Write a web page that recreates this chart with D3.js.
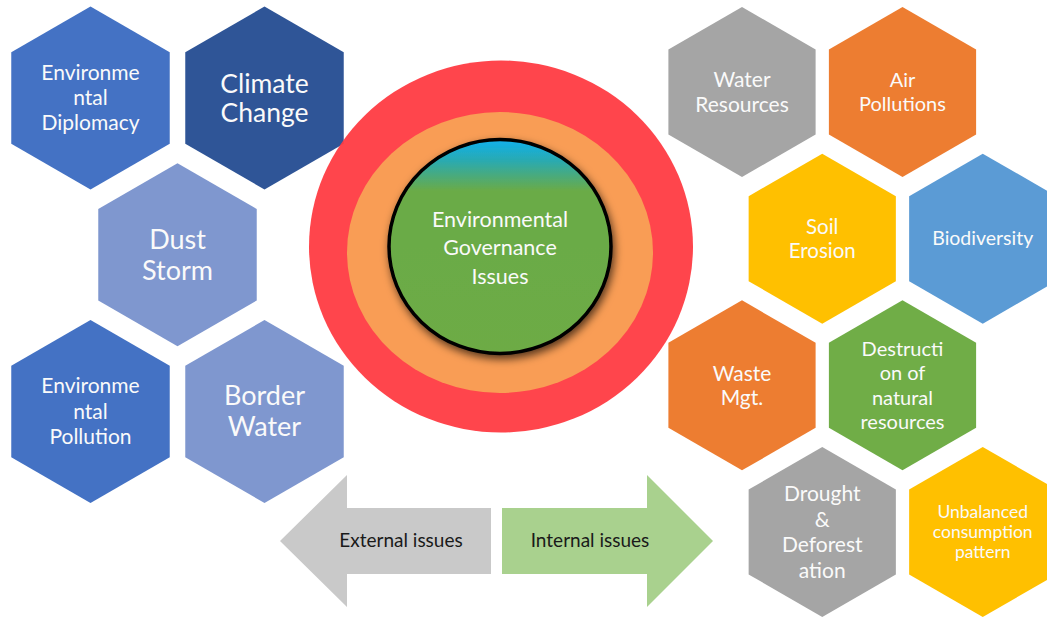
<!DOCTYPE html>
<html>
<head>
<meta charset="utf-8">
<script src="https://cdn.jsdelivr.net/npm/d3@7"></script>
<style>
  html, body { margin: 0; padding: 0; background: #fff; }
  text { font-family: Lato, "Noto Sans", sans-serif; }
</style>
</head>
<body>
<div id="chart"></div>
<script>
const width = 1047, height = 617;

// left cluster: external issues
const extLabels = [
    ["Environme", "ntal", "Diplomacy"],
    ["Climate", "Change"],
    ["Dust", "Storm"],
    ["Environme", "ntal", "Pollution"],
    ["Border", "Water"]
];
const extColors = ["#4472c4", "#2f5597", "#7f97cf", "#4472c4", "#7f97cf"];

// right cluster: internal issues
const intLabels = [
    ["Water", "Resources"],
    ["Air", "Pollutions"],
    ["Soil", "Erosion"],
    ["Biodiversity"],
    ["Waste", "Mgt."],
    ["Destructi", "on of", "natural", "resources"],
    ["Drought", "&", "Deforest", "ation"],
    ["Unbalanced", "consumption", "pattern"]
];
const intColors = ["#a5a5a5", "#ed7d31", "#ffc000", "#5b9bd5", "#ed7d31", "#70ad47", "#a5a5a5", "#ffc000"];

const centerLabel = ["Environmental", "Governance", "Issues"];
const arrowLabels = ["External issues", "Internal issues"];

// layout slots (column, row) in each honeycomb
const extSlots = [[0, 0], [1, 0], [0.5, 1], [0, 2], [1, 2]];
const extFont = [[21, 25], [26.5, 29], [27, 31], [21, 25.5], [27, 31]];
const intSlots = [[0, 0], [1, 0], [0.5, 1], [1.5, 1], [0, 2], [1, 2], [0.5, 3], [1.5, 3]];
const intFont = [[21, 25], [20, 24], [20.5, 24], [19.5, 24], [21, 24], [20, 24.5], [21, 25.5], [17.5, 20]];

const xExt = d3.scaleLinear().domain([0, 1]).range([90.5, 264.5]);
const yExt = d3.scaleLinear().domain([0, 2]).range([98, 411.5]);
const xInt = d3.scaleLinear().domain([0, 1]).range([742, 902.5]);
const yInt = d3.scaleLinear().domain([0, 3]).range([92, 532]);

const hexLine = d3.line().curve(d3.curveLinearClosed);
const hexPath = (cx, cy, r) => hexLine(d3.range(6).map(k => {
    let a = (-90 + 60 * k) * Math.PI / 180;
    return [cx + r * Math.cos(a), cy + r * Math.sin(a)];
}));

const svg = d3.select("#chart").append("svg")
    .attr("width", width).attr("height", height);

const defs = svg.append("defs");
let grad = defs.append("linearGradient").attr("id", "core")
    .attr("x1", 0).attr("y1", 0).attr("x2", 0).attr("y2", 1);
grad.append("stop").attr("offset", "0%").attr("stop-color", "#0fb0ee");
grad.append("stop").attr("offset", "10%").attr("stop-color", "#2aaab0");
grad.append("stop").attr("offset", "24%").attr("stop-color", "#6aab47");
grad.append("stop").attr("offset", "100%").attr("stop-color", "#6dab45");
defs.append("filter").attr("id", "shadow")
    .attr("x", "-20%").attr("y", "-20%").attr("width", "140%").attr("height", "140%")
    .append("feDropShadow")
    .attr("dx", 2).attr("dy", 4).attr("stdDeviation", 4)
    .attr("flood-color", "#000").attr("flood-opacity", 0.65);

const drawHexes = (g, labels, colors, slots, fonts, xs, ys, r) => {
    let data = labels.map((l, i) => ({
        lines: l, color: colors[i],
        cx: xs(slots[i][0]), cy: ys(slots[i][1]),
        fs: fonts[i][0], lh: fonts[i][1]
    }));
    let hex = g.selectAll("g").data(data).enter().append("g");
    hex.append("path")
        .attr("d", d => hexPath(d.cx, d.cy, r))
        .attr("fill", d => d.color);
    hex.append("text")
        .attr("fill", "#fafafa")
        .attr("text-anchor", "middle")
        .style("font-size", d => d.fs + "px")
        .selectAll("tspan")
        .data(d => d.lines.map((t, i) => ({ t, i, d })))
        .enter().append("tspan")
        .attr("x", o => o.d.cx)
        .attr("y", o => o.d.cy + (o.i - (o.d.lines.length - 1) / 2) * o.d.lh + o.d.fs * 0.35)
        .text(o => o.t);
};

drawHexes(svg.append("g").attr("class", "ext"), extLabels, extColors, extSlots, extFont, xExt, yExt, 91.5);
drawHexes(svg.append("g").attr("class", "int"), intLabels, intColors, intSlots, intFont, xInt, yInt, 85);

// centre rings
let core = svg.append("g").attr("class", "core");
core.append("ellipse").attr("cx", 501).attr("cy", 246.5).attr("rx", 192).attr("ry", 186)
    .attr("fill", "#ff3b42").attr("fill-opacity", 0.95);
core.append("ellipse").attr("cx", 500).attr("cy", 252.5).attr("rx", 153).attr("ry", 140.5)
    .attr("fill", "#f99d55");
core.append("ellipse").attr("cx", 500).attr("cy", 246.5).attr("rx", 111).attr("ry", 107)
    .attr("fill", "url(#core)")
    .attr("stroke", "#000").attr("stroke-width", 3.5)
    .attr("filter", "url(#shadow)");
core.append("text")
    .attr("fill", "#fafafa").attr("text-anchor", "middle")
    .style("font-size", "21.5px")
    .selectAll("tspan").data(centerLabel).enter().append("tspan")
    .attr("x", 500)
    .attr("y", (d, i) => 255 + (i - 1) * 28.5)
    .text(d => d);

// arrows
const arrow = (tipX, baseX, endX, cy, headH, shaftH) => hexLine([
    [tipX, cy], [baseX, cy - headH / 2], [baseX, cy - shaftH / 2], [endX, cy - shaftH / 2],
    [endX, cy + shaftH / 2], [baseX, cy + shaftH / 2], [baseX, cy + headH / 2]
]);
let arrows = svg.append("g").attr("class", "arrows");
arrows.append("path").attr("d", arrow(280, 347, 491, 541, 132, 66)).attr("fill", "#c9c9c9");
arrows.append("path").attr("d", arrow(713, 647, 502, 541, 132, 66)).attr("fill", "#a9d18e");
arrows.selectAll("text").data(arrowLabels).enter().append("text")
    .attr("x", (d, i) => i === 0 ? 401 : 590)
    .attr("y", 547)
    .attr("text-anchor", "middle")
    .attr("fill", "#1a1a1a")
    .style("font-size", "19px")
    .text(d => d);
</script>
</body>
</html>
